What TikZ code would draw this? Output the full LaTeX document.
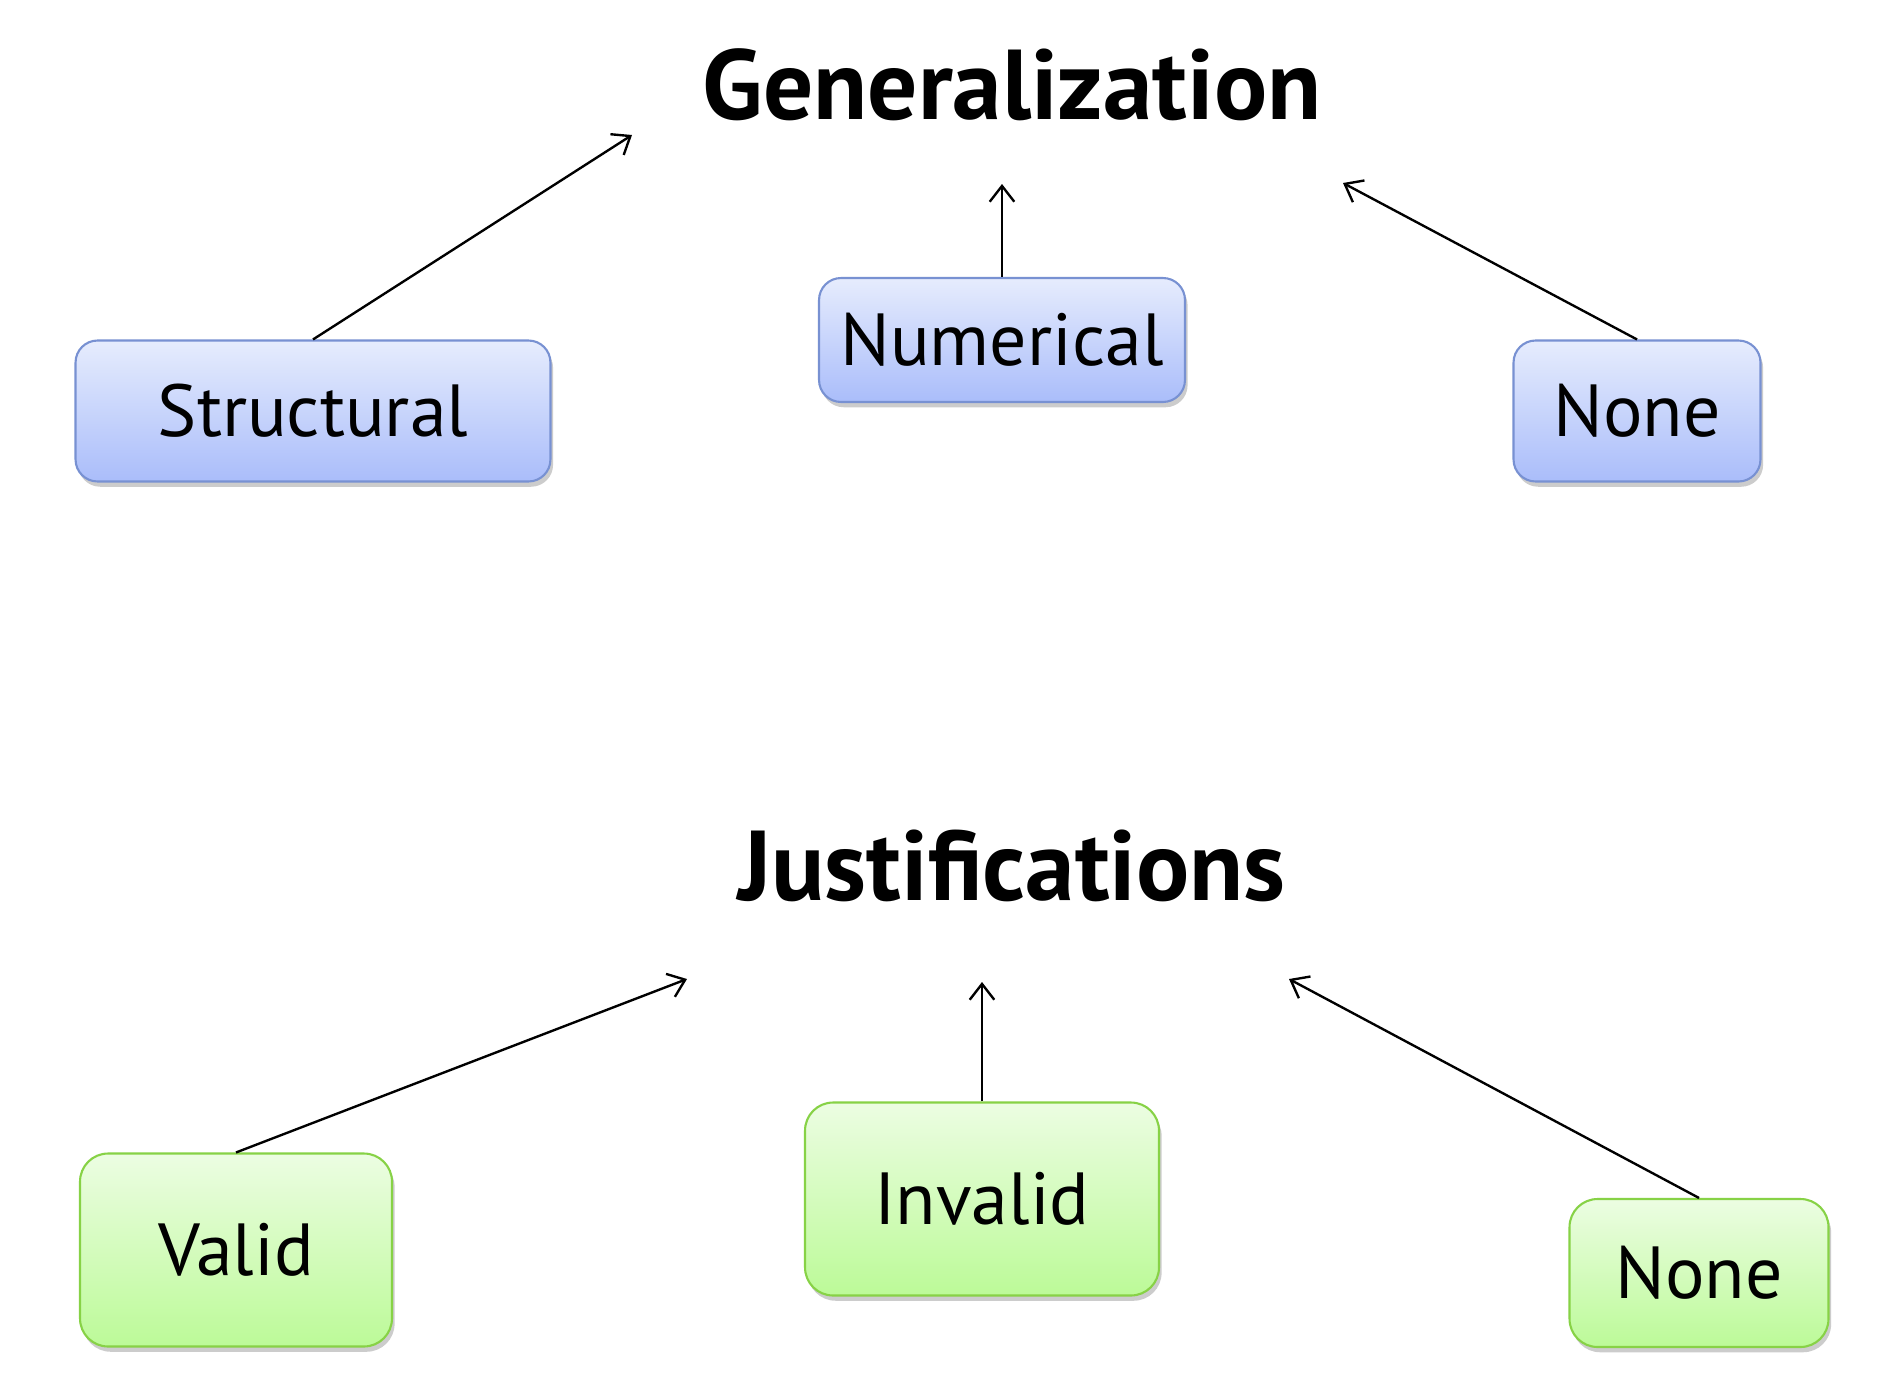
\documentclass[tikz,border=0pt]{standalone}
\usepackage{fontspec}
\setmainfont{PT Sans}
\usetikzlibrary{arrows.meta,shadows}
\begin{document}
\begin{tikzpicture}[x=0.02cm,y=-0.02cm,
  bluebox/.style={draw={rgb,255:red,120;green,145;blue,210}, line width=1.2pt, rounded corners=0.44cm,
    top color={rgb,255:red,230;green,236;blue,253}, bottom color={rgb,255:red,170;green,189;blue,250},
    drop shadow={opacity=0.4, shadow xshift=1.5pt, shadow yshift=-3pt},
    font=\fontsize{42}{48}\selectfont, inner sep=0pt},
  greenbox/.style={draw={rgb,255:red,135;green,210;blue,70}, line width=1.2pt, rounded corners=0.56cm,
    top color={rgb,255:red,236;green,253;blue,226}, bottom color={rgb,255:red,188;green,250;blue,152},
    drop shadow={opacity=0.4, shadow xshift=1.5pt, shadow yshift=-3pt},
    font=\fontsize{42}{48}\selectfont, inner sep=0pt},
  title/.style={font=\bfseries\fontsize{56.5}{62}\selectfont, inner sep=0pt},
  conn/.style={line width=1.35pt, -{Straight Barb[length=9pt,width=14pt,line width=1.35pt]}}
]
\path[use as bounding box, fill=white] (0,0) rectangle (1889,1386);

\node[title] (gen) at (1012,85) {Generalization};
\node[title] (just) at (1012,866) {Justifications};

\node[bluebox, minimum width=9.5cm, minimum height=2.82cm] (str) at (313,411) {Structural};
\node[bluebox, minimum width=7.32cm, minimum height=2.48cm] (num) at (1002,340) {Numerical};
\node[bluebox, minimum width=4.94cm, minimum height=2.82cm] (none1) at (1637,411) {None};

\node[greenbox, minimum width=6.24cm, minimum height=3.86cm] (val) at (236,1250) {Valid};
\node[greenbox, minimum width=7.08cm, minimum height=3.86cm] (inv) at (982,1199) {Invalid};
\node[greenbox, minimum width=5.18cm, minimum height=2.96cm] (none2) at (1699,1273) {None};

\coordinate (g1) at (632,135);
\coordinate (g2) at (1002,184);
\coordinate (g3) at (1343,183);
\coordinate (j1) at (687,979);
\coordinate (j2) at (982,982);
\coordinate (j3) at (1289,979);

\draw[conn] (str.north) -- (g1);
\draw[conn] (num.north) -- (g2);
\draw[conn] (none1.north) -- (g3);
\draw[conn] (val.north) -- (j1);
\draw[conn] (inv.north) -- (j2);
\draw[conn] (none2.north) -- (j3);
\end{tikzpicture}
\end{document}
